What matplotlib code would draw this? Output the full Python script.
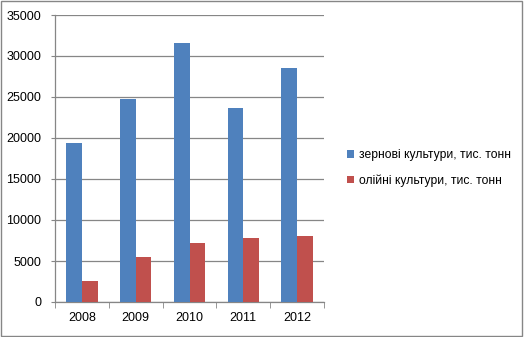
import numpy as np
import matplotlib
matplotlib.use('Agg')
import matplotlib.pyplot as plt
from matplotlib.patches import Rectangle

years = ['2008', '2009', '2010', '2011', '2012']
grain = [19400, 24800, 31600, 23700, 28500]
oil = [2600, 5500, 7200, 7800, 8000]
labels = ['зернові культури, тис. тонн', 'олійні культури, тис. тонн']

plt.rcParams['font.family'] = ['Liberation Sans', 'DejaVu Sans']

fig = plt.figure(figsize=(5.24, 3.37), dpi=100)
ax = fig.add_axes([55/524, 1 - 302/337, 269/524, 287/337])

x = np.arange(len(years))
w = 0.29
ax.bar(x - w/2, grain, w, color='#4F81BD', label=labels[0], zorder=3)
ax.bar(x + w/2, oil, w, color='#C0504D', label=labels[1], zorder=3)

ax.set_xlim(-0.5, 4.5)
ax.set_ylim(0, 35000)
ax.set_yticks(np.arange(0, 35001, 5000))
ax.yaxis.grid(True, color='#868686', linewidth=0.9, zorder=0)

ax.set_xticks(x)
ax.set_xticklabels(years)
ax.set_xticks(np.arange(-0.5, 5, 1), minor=True)
ax.tick_params(axis='x', which='major', length=0, pad=7, labelsize=9)
ax.tick_params(axis='x', which='minor', length=4, color='#868686', direction='out')
ax.tick_params(axis='y', length=3, color='#868686', pad=7, labelsize=9)

for s in ['top', 'right']:
    ax.spines[s].set_visible(False)
for s in ['left', 'bottom']:
    ax.spines[s].set_color('#868686')
    ax.spines[s].set_linewidth(0.9)

fig.legend(loc='center left', bbox_to_anchor=(336/524, 1 - 168/337), frameon=False,
           fontsize=8.7, handlelength=0.6, handleheight=0.6, handletextpad=0.4,
           labelspacing=1.1)

fig.patches.append(Rectangle((0.002, 0.004), 0.994, 0.992, transform=fig.transFigure,
                             fill=False, edgecolor='#868686', linewidth=1))

fig.savefig('out.png', dpi=100)
